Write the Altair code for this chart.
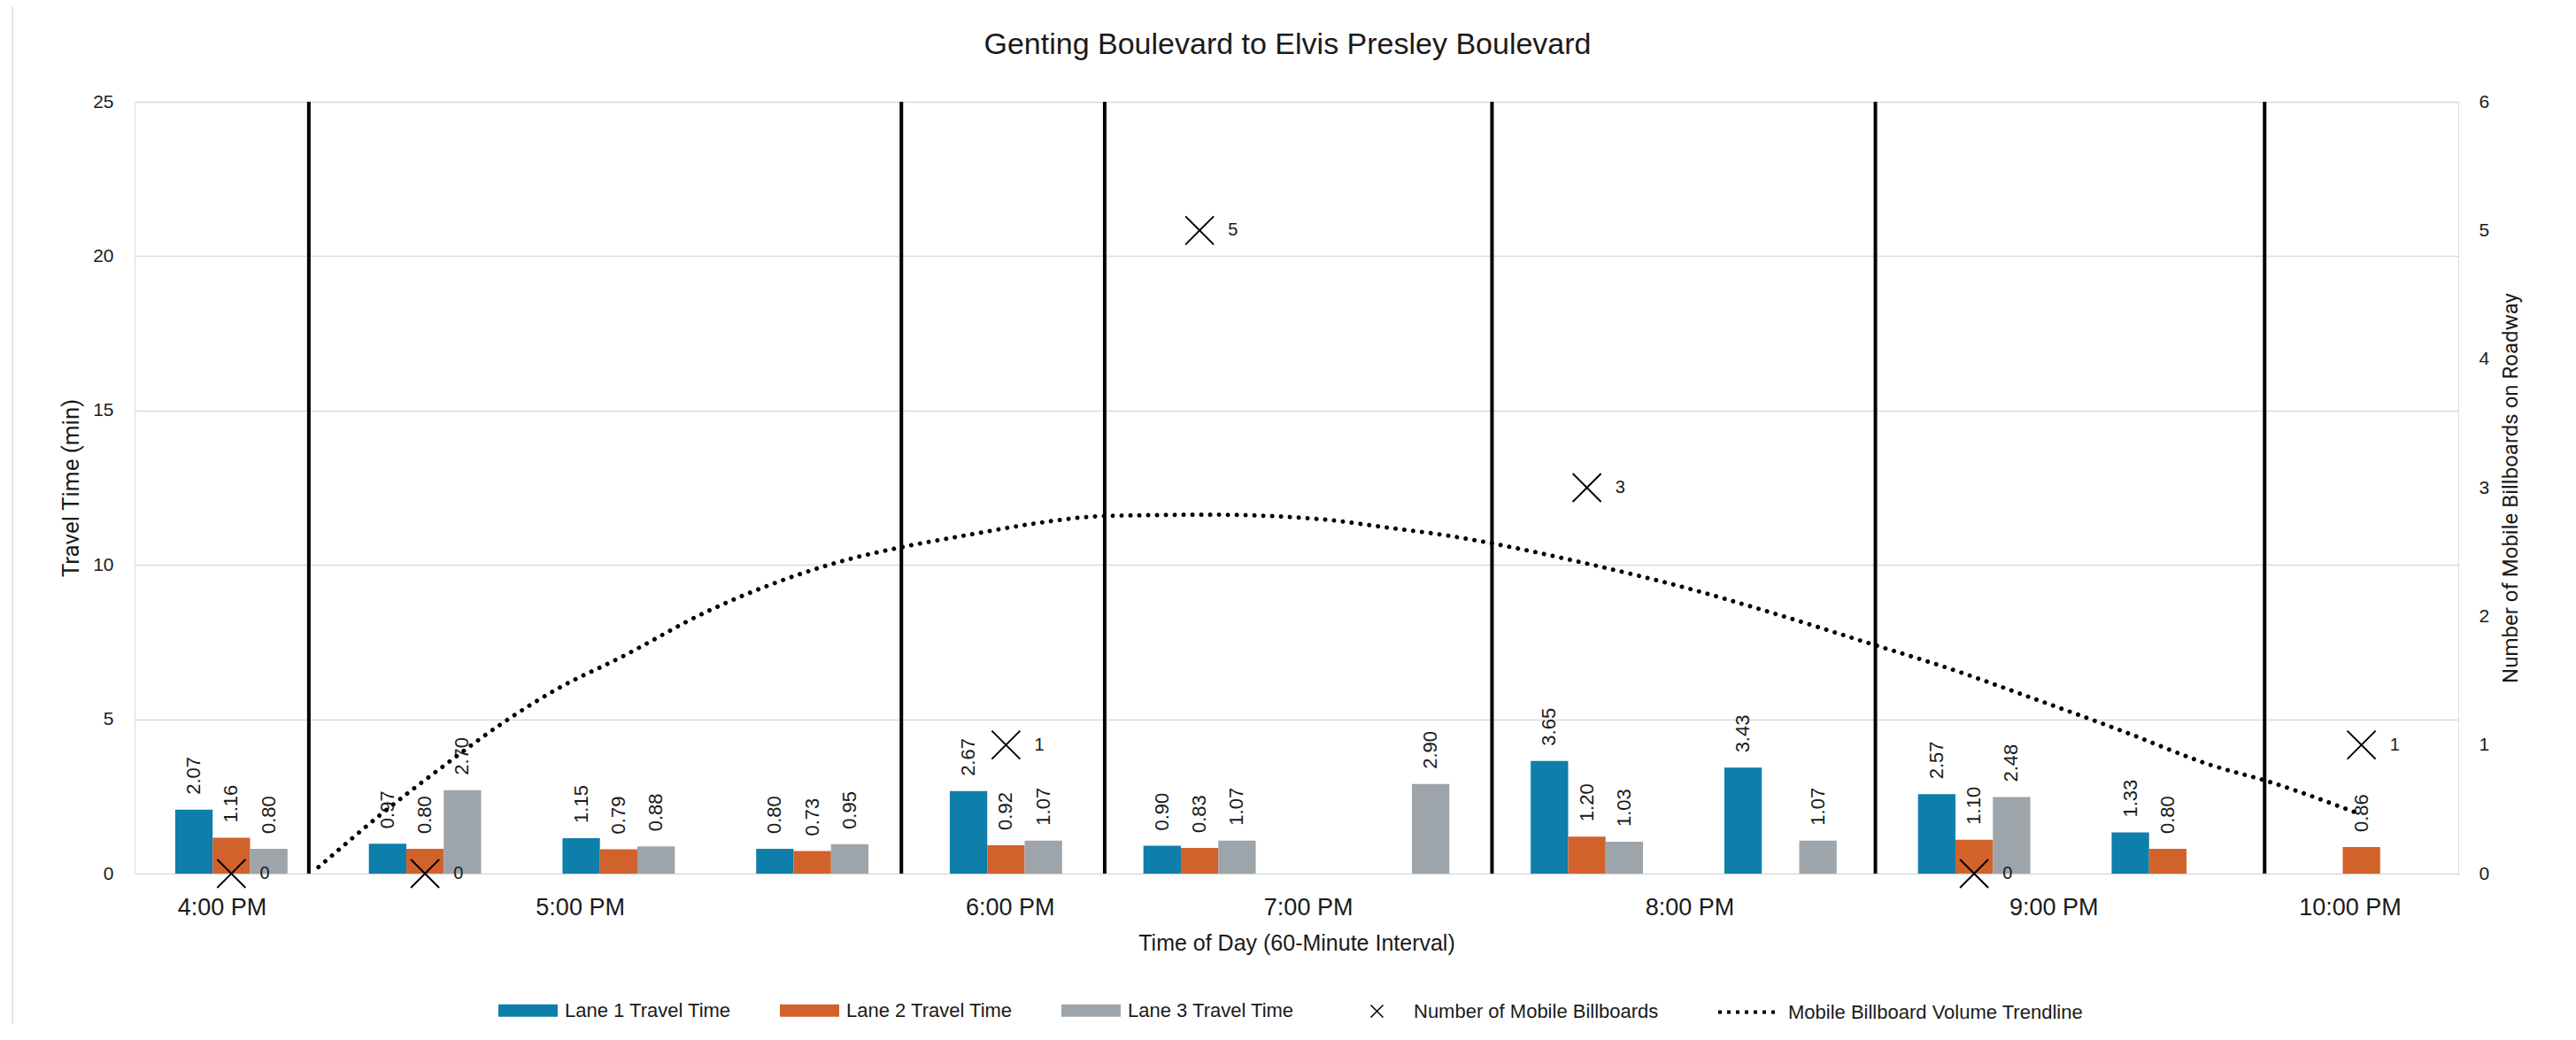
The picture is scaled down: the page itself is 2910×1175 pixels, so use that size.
import altair as alt
import pandas as pd

# ---------------- data ----------------
groups = list(range(12))
lanes = ["Lane 1 Travel Time", "Lane 2 Travel Time", "Lane 3 Travel Time"]
lane1 = [2.07, 0.97, 1.15, 0.80, 2.67, 0.90, None, 3.65, 3.43, 2.57, 1.33, None]
lane2 = [1.16, 0.80, 0.79, 0.73, 0.92, 0.83, None, 1.20, None, 1.10, 0.80, 0.86]
lane3 = [0.80, 2.70, 0.88, 0.95, 1.07, 1.07, 2.90, 1.03, 1.07, 2.48, None, None]

bb_pos = [0, 1, 4, 5, 7, 9, 11]
bb_count = [0, 0, 1, 5, 3, 0, 1]

trend_u = [0.45, 0.78, 1.09, 1.40, 1.70, 2.01, 2.46, 2.92, 3.23, 3.47, 3.83, 4.14,
           4.51, 5.05, 5.36, 5.66, 5.97, 6.27, 6.50, 7.00, 7.49, 7.95, 8.48, 8.86,
           9.29, 9.78, 10.23, 10.51, 10.98]
trend_v = [0.05, 0.47, 0.83, 1.17, 1.45, 1.68, 2.04, 2.32, 2.46, 2.54, 2.64, 2.72,
           2.78, 2.79, 2.78, 2.75, 2.69, 2.63, 2.57, 2.41, 2.23, 2.03, 1.78, 1.60,
           1.37, 1.10, 0.84, 0.72, 0.47]

divider_pos = [0.40, 3.46, 4.51, 6.51, 8.49, 10.50]

hour_labels = ["4:00 PM", "5:00 PM", "6:00 PM", "7:00 PM", "8:00 PM", "9:00 PM", "10:00 PM"]
hour_pos = [-0.05, 1.80, 4.02, 5.56, 7.53, 9.41, 10.94]

lane_colors = ["#0E7EAA", "#D2622B", "#9DA4AA"]
BB_NAME = "Number of Mobile Billboards"
TR_NAME = "Mobile Billboard Volume Trendline"

# ---------------- tables ----------------
rows = []
for lane, vals in zip(lanes, [lane1, lane2, lane3]):
    for g, v in zip(groups, vals):
        if v is not None:
            rows.append({"grp": g, "lane": lane, "val": v})
bars_df = pd.DataFrame(rows)

bb_df = pd.DataFrame({"u": bb_pos, "v": bb_count, "bb_series": BB_NAME})
trend_df = pd.DataFrame({"u": trend_u, "v": trend_v, "trend_series": TR_NAME})
div_df = pd.DataFrame({"u": divider_pos, "v": [6] * len(divider_pos), "v0": [0] * len(divider_pos)})

SANS = "Liberation Sans, Arial, sans-serif"
ROBOTO = "Roboto, sans-serif"
TXT = "#1a1a1a"

W, H = 2625, 872
LEG_Y = 993

# ---------------- bars layer ----------------
left_axis = alt.Axis(values=[0, 5, 10, 15, 20, 25], grid=True, gridColor="#D9D9D9", gridWidth=1.5,
                     domain=False, ticks=False, tickSize=0, labelPadding=24,
                     labelFont=SANS, labelFontSize=21, labelColor=TXT,
                     title="Travel Time (min)", titleFont=ROBOTO, titleFontSize=26,
                     titleFontWeight="normal", titleColor=TXT, titleAngle=270,
                     titleX=-72, titleY=H / 2, titleBaseline="middle", titleAlign="center")

xband = alt.X("grp:O", scale=alt.Scale(domain=groups, paddingInner=0.42, paddingOuter=0.21), axis=None)
xoff = alt.XOffset("lane:N", scale=alt.Scale(domain=lanes, paddingInner=0, paddingOuter=0))
ybar = alt.Y("val:Q", scale=alt.Scale(domain=[0, 25], nice=False), axis=left_axis)

bars = alt.Chart(bars_df).mark_bar().encode(
    x=xband, xOffset=xoff, y=ybar,
    color=alt.Color("lane:N", scale=alt.Scale(domain=lanes, range=lane_colors),
                    legend=alt.Legend(title=None, orient="none", legendX=411, legendY=LEG_Y,
                                      direction="horizontal", padding=0,
                                      symbolType="M-1,-0.21H1V0.21H-1Z", symbolSize=4489,
                                      symbolStrokeWidth=0, labelOffset=8, columnPadding=55,
                                      labelFont=SANS, labelFontSize=22, labelColor=TXT,
                                      labelLimit=600)),
)
bar_labels = alt.Chart(bars_df).mark_text(angle=270, align="left", baseline="middle", dx=17,
                                          font=SANS, fontSize=22, color=TXT).encode(
    x=xband, xOffset=xoff, y=ybar, text=alt.Text("val:Q", format=".2f"))

bar_layer = alt.layer(bars, bar_labels)

# ---------------- overlay layer ----------------
pos_js = ",".join(str(p) for p in hour_pos)
lab_js = ",".join("'%s'" % s for s in hour_labels)
x_axis = alt.Axis(values=hour_pos, labelExpr=f"[{lab_js}][indexof([{pos_js}], datum.value)]",
                  grid=False, domain=False, ticks=False, tickSize=0, labelPadding=46,
                  labelBaseline="alphabetic", labelFont=SANS, labelFontSize=27, labelColor=TXT,
                  labelFlush=False, labelOverlap=False,
                  title="Time of Day (60-Minute Interval)", titleFont=SANS, titleFontSize=25,
                  titleFontWeight="normal", titleColor=TXT, titleY=86, titleBaseline="alphabetic")
right_axis = alt.Axis(orient="right", values=[0, 1, 2, 3, 4, 5, 6], grid=False, domain=False,
                      ticks=False, tickSize=0, labelPadding=23, labelFont=SANS, labelFontSize=21,
                      labelColor=TXT, title="Number of Mobile Billboards on Roadway",
                      titleFont=ROBOTO, titleFontSize=24, titleFontWeight="normal", titleColor=TXT,
                      titleAngle=270, titleX=59, titleY=H / 2, titleBaseline="middle",
                      titleAlign="center")

xq = alt.X("u:Q", scale=alt.Scale(domain=[-0.5, 11.5], nice=False, zero=False), axis=x_axis)
yq = alt.Y("v:Q", scale=alt.Scale(domain=[0, 6], nice=False), axis=right_axis)

dividers = alt.Chart(div_df).mark_rule(color="black", strokeWidth=4).encode(
    x=xq, y=yq, y2="v0:Q")

trend = alt.Chart(trend_df).mark_line(color="black", strokeWidth=5, strokeCap="round",
                                      strokeDash=[0.01, 10], interpolate="monotone").encode(
    x=xq, y=yq,
    opacity=alt.Opacity("trend_series:N", scale=alt.Scale(domain=[TR_NAME], range=[1]),
                        legend=alt.Legend(title=None, orient="none", legendX=1787, legendY=LEG_Y,
                                          padding=0, symbolType="stroke", symbolSize=4489,
                                          symbolDash=[4, 6], symbolStrokeWidth=4,
                                          symbolStrokeColor="black", symbolFillColor="transparent",
                                          labelOffset=10, labelFont=SANS, labelFontSize=22,
                                          labelColor=TXT, labelLimit=600)),
)

XPATH = "M-0.209,-0.209L0.209,0.209M-0.209,0.209L0.209,-0.209"
points = alt.Chart(bb_df).mark_point(filled=False, color="black", strokeWidth=2, size=23440,
                                     opacity=1).encode(
    x=xq, y=yq,
    shape=alt.Shape("bb_series:N", scale=alt.Scale(domain=[BB_NAME], range=[XPATH]),
                    legend=alt.Legend(title=None, orient="none", legendX=1369, legendY=LEG_Y,
                                      padding=0, symbolSize=4489, symbolStrokeWidth=1.5,
                                      symbolStrokeColor="black", symbolFillColor="transparent",
                                      labelOffset=7, labelFont=SANS, labelFontSize=22,
                                      labelColor=TXT, labelLimit=600)),
)
point_labels = alt.Chart(bb_df).mark_text(align="left", baseline="middle", dx=32, font=SANS,
                                          fontSize=20, color=TXT).encode(
    x=xq, y=yq, text="v:Q")

border = alt.Chart(bb_df.head(1)).mark_rect(fillOpacity=0, stroke="#D9D9D9", strokeWidth=1.5).encode(
    x=alt.value(-138), x2=alt.value(2739), y=alt.value(-108), y2=alt.value(1052))

overlay = alt.layer(dividers, trend, points, point_labels, border)

chart = alt.layer(bar_layer, overlay).resolve_scale(
    x="independent", y="independent"
).properties(
    width=W, height=H,
    autosize=alt.AutoSizeParams(type="none"),
    padding={"left": 144, "top": 107, "right": 110, "bottom": 170},
    title=alt.Title("Genting Boulevard to Elvis Presley Boulevard", font=SANS, fontSize=34,
                    fontWeight="normal", color=TXT, anchor="middle", frame="group", offset=-89,
                    baseline="alphabetic", dx=-10),
).configure_view(stroke=None).configure(background="white")

chart.save("out.html", embed_options={"renderer": "svg", "actions": False})
